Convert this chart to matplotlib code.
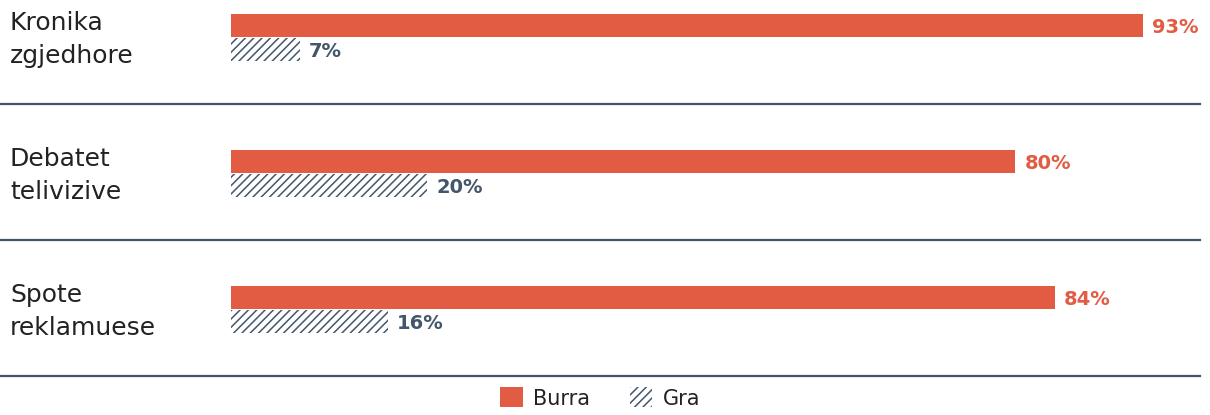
import matplotlib
matplotlib.use("Agg")
import matplotlib.pyplot as plt
from matplotlib.patches import Patch
from matplotlib.lines import Line2D
import matplotlib.transforms as mtransforms

categories = ["Kronika\nzgjedhore", "Debatet\ntelivizive", "Spote\nreklamuese"]
burra = [93, 80, 84]
gra = [7, 20, 16]
series_names = ["Burra", "Gra"]

ORANGE = "#E25C44"
SLATE = "#44566B"
TEXT = "#222222"
HATCH = "////"

plt.rcParams["font.family"] = ["DejaVu Sans"]
plt.rcParams["hatch.linewidth"] = 1.1

W, H = 1210, 415
fig = plt.figure(figsize=(W / 100, H / 100), dpi=100)
ax = fig.add_axes([231 / W, 0, (1200 - 231) / W, 1])
px_per_pct = 9.806
ax.set_xlim(0, (1200 - 231) / px_per_pct)
unit = 136.0
ax.set_ylim((H - 37.5) / unit, -37.5 / unit)
ax.axis("off")

bh = 23 / unit
off = 12 / unit
ys = list(range(len(categories)))

ax.barh([y - off for y in ys], burra, height=bh, color=ORANGE, linewidth=0)
ax.barh([y + off for y in ys], gra, height=bh, color="white", edgecolor=SLATE,
        hatch=HATCH, linewidth=0)

gap = 9 / px_per_pct
for y, v in zip(ys, burra):
    ax.text(v + gap, y - off + 1.5 / unit, f"{v}%", color=ORANGE, fontsize=14,
            fontweight="bold", va="center", ha="left", clip_on=False)
for y, v in zip(ys, gra):
    ax.text(v + gap, y + off + 1.5 / unit, f"{v}%", color=SLATE, fontsize=14,
            fontweight="bold", va="center", ha="left", clip_on=False)

trans = mtransforms.blended_transform_factory(fig.transFigure, ax.transData)
for y, c in zip(ys, categories):
    ax.text(10 / W, y + 2 / unit, c, transform=trans, fontsize=18, color=TEXT,
            va="center", ha="left", linespacing=1.45)
    sep = y + (104 - 37.5) / unit
    ax.add_line(Line2D([0, 1200 / W], [sep, sep], transform=trans, color=SLATE,
                       linewidth=1.6, clip_on=False))

handles = [Patch(facecolor=ORANGE, linewidth=0),
           Patch(facecolor="white", edgecolor=SLATE, hatch=HATCH, linewidth=0)]
fig.legend(handles, series_names, loc="center", bbox_to_anchor=(600 / W, 1 - 398 / H),
           ncol=2, frameon=False, fontsize=15, handlelength=1.1, handleheight=1.1,
           handletextpad=0.5, columnspacing=1.9, labelcolor=TEXT)

fig.savefig("out.png", dpi=100)
